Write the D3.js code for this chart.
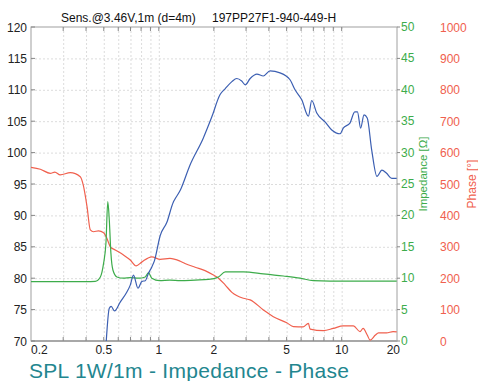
<!DOCTYPE html>
<html>
<head>
<meta charset="utf-8">
<script src="https://cdn.jsdelivr.net/npm/d3@7"></script>
<style>
  body { margin: 0; background: #fff; }
  svg { font-family: "Liberation Sans", Arial, sans-serif; }
  .grid line { stroke: #dcdcdc; stroke-dasharray: 2,2; }
  .grid .domain { display: none; }
</style>
</head>
<body>
<div class="canvas"></div>
<script>
const dims = { width: 478, height: 381 };
const margin = { left: 31, right: 81, top: 27, bottom: 40 };

// frequency in kHz
const splFreq = [0.516, 0.536, 0.549, 0.573, 0.615, 0.669, 0.698, 0.727, 0.769, 0.809, 0.843, 0.878, 0.916, 0.947,
  1.018, 1.107, 1.2, 1.22, 1.31, 1.48, 1.75, 1.95, 2.16, 2.31, 2.51, 2.67, 2.84, 2.97, 3.16, 3.44, 3.73,
  4.06, 4.6, 5.22, 5.56, 6.05, 6.58, 6.86, 7.31, 8.11, 8.83, 9.8, 10.2, 11.1, 11.8, 12.2, 12.7, 13.25, 13.8,
  14.6, 15.6, 16.6, 17.6, 18.8, 20];
const splValues = [70, 75.2, 75.5, 74.8, 76.2, 77.8, 78.9, 80.5, 78.4, 79.5, 79.6, 80.8, 81.8, 82.8,
  86.8, 88.9, 92.1, 92.5, 94, 98, 102.3, 105.7, 109.2, 110.2, 111.3, 111.8, 111.4, 110.8, 111.8, 112.5, 112.2,
  113.0, 112.7, 111.6, 110, 108.4, 105.8, 108.3, 106.3, 104.9, 103.6, 103, 103.9, 104.7, 106.5, 106.5, 103.9, 106, 105.5,
  100.4, 96.2, 97.2, 96.7, 95.9, 95.9];

const impFreq = [0.2, 0.3, 0.4, 0.449, 0.479, 0.499, 0.514, 0.526, 0.536, 0.547, 0.561, 0.59, 0.641, 0.698, 0.775,
  0.843, 0.878, 0.916, 1.01, 1.15, 1.31, 1.58, 1.87, 2.12, 2.31, 2.9, 3.73, 4.8, 5.93, 7.0, 8.64, 12, 20];
const impValues = [9.45, 9.45, 9.45, 9.5, 10.2, 12.4, 15.6, 22.2, 19.3, 14, 11.3, 10.2, 10.0, 10.1, 10.0,
  10.2, 10.9, 10.0, 9.6, 9.7, 9.6, 9.7, 9.8, 10.2, 11.0, 11.0, 10.7, 10.35, 10.0, 9.6, 9.55, 9.55, 9.55];

const phaseFreq = [0.2, 0.225, 0.255, 0.27, 0.289, 0.328, 0.372, 0.386, 0.405, 0.422, 0.44, 0.468, 0.499, 0.52,
  0.543, 0.578, 0.641, 0.698, 0.752, 0.809, 0.916, 1.018, 1.15, 1.31, 1.39, 1.58, 1.79, 1.99, 2.12, 2.31, 2.51,
  2.9, 3.16, 3.73, 4.23, 5.01, 5.45, 6.15, 6.58, 6.72, 7.94, 9.0, 10.2, 11.6, 12.6, 13.1, 13.8, 14.3, 15.3,
  15.9, 17.6, 19.1, 20];
const phaseValues = [553, 547, 534, 538, 529, 536, 523, 497, 428, 354, 348, 351, 345, 327,
  300, 290, 274, 258, 239, 252, 268, 260, 263, 254, 247, 235, 224, 210, 200, 178, 155,
  136, 131, 99, 77, 58, 46, 45, 56, 38, 33, 40, 48, 48, 30, 40, 19, 3, 19,
  26, 26, 30, 29];

const xMajor = [0.2, 0.5, 1, 2, 5, 10, 20];
const xMinor = [0.3, 0.4, 0.5, 0.6, 0.7, 0.8, 0.9, 1, 2, 3, 4, 5, 6, 7, 8, 9, 10];
const splTicks = [70, 75, 80, 85, 90, 95, 100, 105, 110, 115, 120];
const impTicks = [0, 5, 10, 15, 20, 25, 30, 35, 40, 45, 50];
const phaseTicks = [0, 100, 200, 300, 400, 500, 600, 700, 800, 900, 1000];

const colors = { spl: "#3c5fb2", imp: "#3dac4b", phase: "#f0604e", teal: "#22868f" };

const svg = d3
  .select(".canvas")
  .append("svg")
  .attr("width", dims.width)
  .attr("height", dims.height);

const x0 = margin.left, x1 = dims.width - margin.right;
const yb = 341, y1 = margin.top;

const x = d3.scaleLog().domain([0.2, 20]).range([x0, x1 - 0.3]);
const ySpl = d3.scaleLinear().domain([70, 120]).range([yb, y1]);
const yImp = d3.scaleLinear().domain([0, 50]).range([yb, y1]);
const yPh = d3.scaleLinear().domain([0, 1000]).range([yb, y1]);

// grid
svg.append("g").attr("class", "grid")
  .attr("transform", `translate(0,${yb})`)
  .call(d3.axisBottom(x).tickValues(xMinor).tickSize(-(yb - y1)).tickFormat(""));
svg.append("g").attr("class", "grid")
  .attr("transform", `translate(${x0},0)`)
  .call(d3.axisLeft(ySpl).tickValues(splTicks.slice(1, -1)).tickSize(-(x1 - x0)).tickFormat(""));

// frame
svg.append("rect")
  .attr("x", x0).attr("y", y1)
  .attr("width", x1 - x0).attr("height", yb - y1)
  .attr("fill", "none").attr("stroke", "#a0a0a0");
svg.append("line")
  .attr("x1", x0).attr("x2", x1).attr("y1", yb).attr("y2", yb)
  .attr("stroke", "#a8a8a8").attr("stroke-width", 2);

// small ticks, inside
const tickG = svg.append("g").attr("stroke", "#888").attr("stroke-width", 1);
tickG.selectAll(".tb").data(xMinor).join("line")
  .attr("x1", d => x(d)).attr("x2", d => x(d)).attr("y1", yb).attr("y2", yb - 4);
tickG.selectAll(".tt").data(xMinor).join("line")
  .attr("x1", d => x(d)).attr("x2", d => x(d)).attr("y1", y1).attr("y2", y1 + 4);
tickG.selectAll(".tl").data(splTicks).join("line")
  .attr("x1", x0).attr("x2", x0 + 4).attr("y1", d => ySpl(d)).attr("y2", d => ySpl(d));
tickG.selectAll(".tr").data(impTicks).join("line")
  .attr("x1", x1).attr("x2", x1 + 3).attr("y1", d => yImp(d)).attr("y2", d => yImp(d));

// tick labels
svg.append("g").selectAll("text").data(splTicks).join("text")
  .attr("x", 27).attr("y", d => ySpl(d) + 4.5)
  .attr("text-anchor", "end").attr("font-size", 12).attr("fill", "#222")
  .text(d => d);
svg.append("g").selectAll("text").data(xMajor).join("text")
  .attr("x", (d, i) => (i === xMajor.length - 1 ? 400 : x(d)))
  .attr("y", 354)
  .attr("text-anchor", (d, i) => (i === 0 ? "start" : i === xMajor.length - 1 ? "end" : "middle"))
  .attr("font-size", 12).attr("fill", "#222")
  .text(d => d);
svg.append("g").selectAll("text").data(impTicks).join("text")
  .attr("x", 401).attr("y", d => yImp(d) + 4)
  .attr("font-size", 12).attr("fill", colors.imp)
  .text(d => d);
svg.append("g").selectAll("text").data(phaseTicks).join("text")
  .attr("x", 440).attr("y", d => yPh(d) + 4.5)
  .attr("font-size", 12).attr("fill", colors.phase)
  .text(d => d);

// axis titles
svg.append("text")
  .attr("transform", "translate(427,174) rotate(-90)")
  .attr("text-anchor", "middle").attr("font-size", 11.5).attr("fill", colors.imp)
  .text("Impedance [Ω]");
svg.append("text")
  .attr("transform", "translate(476,184) rotate(-90)")
  .attr("text-anchor", "middle").attr("font-size", 12).attr("fill", colors.phase)
  .text("Phase [°]");

// title
svg.append("text").attr("x", 61).attr("y", 22).attr("font-size", 12).attr("fill", "#111")
  .text("Sens.@3.46V,1m (d=4m)");
svg.append("text").attr("x", 212).attr("y", 22).attr("font-size", 12).attr("fill", "#111")
  .text("197PP27F1-940-449-H");

// curves
svg.append("clipPath").attr("id", "plot")
  .append("rect").attr("x", x0).attr("y", y1).attr("width", x1 - x0).attr("height", yb - y1);

function drawLine(fs, vs, yScale, color) {
  const pts = fs.map((f, i) => [f, vs[i]]);
  svg.append("path")
    .datum(pts)
    .attr("clip-path", "url(#plot)")
    .attr("fill", "none")
    .attr("stroke", color)
    .attr("stroke-width", 1.2)
    .attr("stroke-linejoin", "round")
    .attr("d", d3.line().x(d => x(d[0])).y(d => yScale(d[1])).curve(d3.curveMonotoneX));
}
drawLine(phaseFreq, phaseValues, yPh, colors.phase);
drawLine(impFreq, impValues, yImp, colors.imp);
drawLine(splFreq, splValues, ySpl, colors.spl);

// footer
svg.append("text").attr("x", 29).attr("y", 378).attr("font-size", 21).attr("fill", colors.teal)
  .attr("textLength", 320)
  .text("SPL 1W/1m - Impedance - Phase");
</script>
</body>
</html>
